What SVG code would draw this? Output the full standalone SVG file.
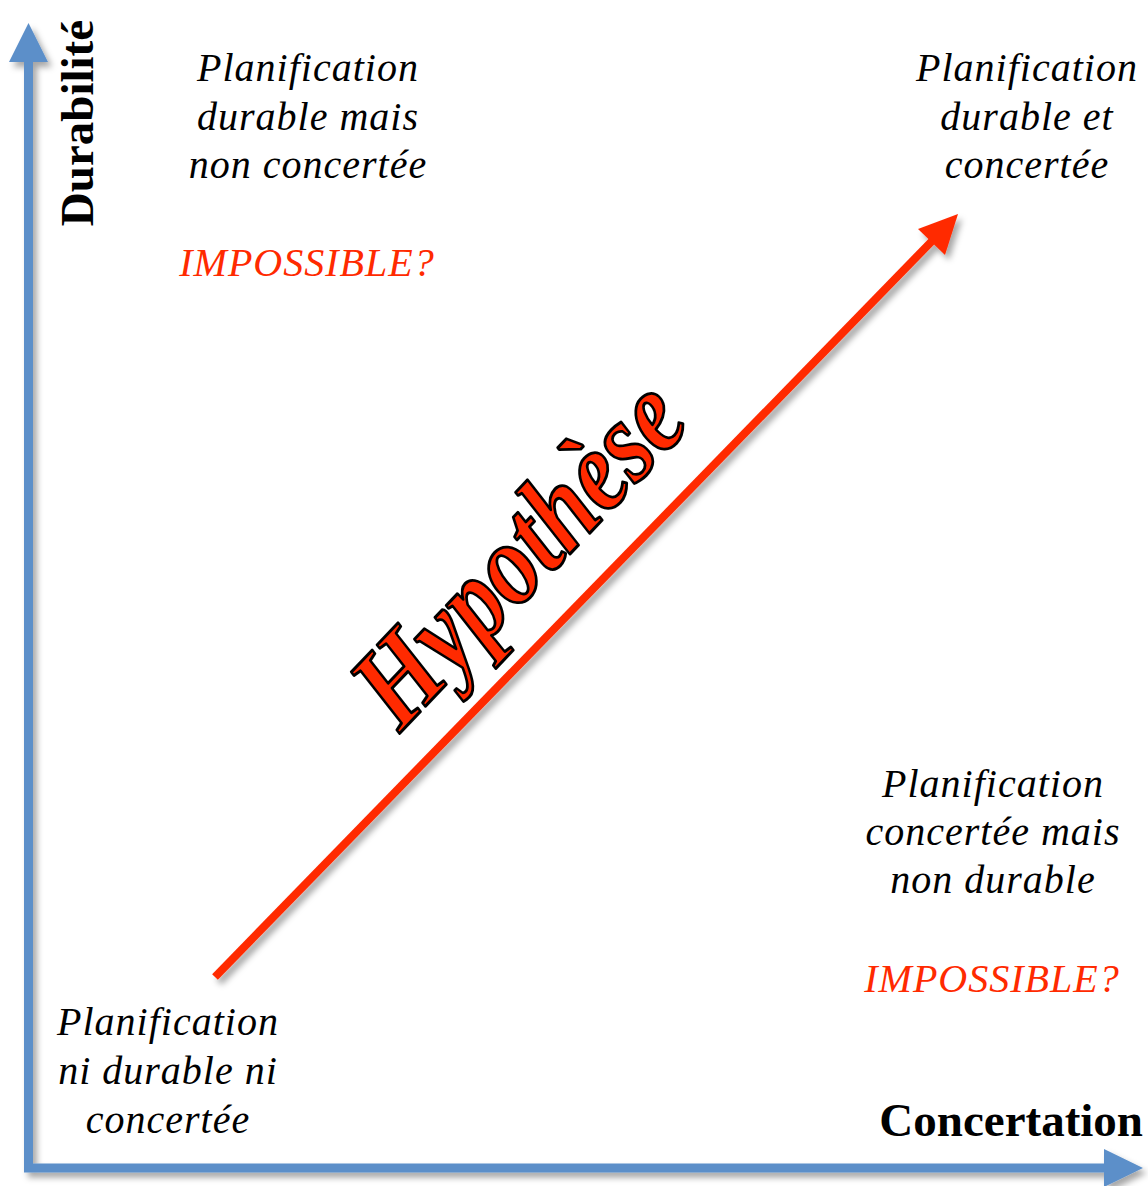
<svg xmlns="http://www.w3.org/2000/svg" width="1148" height="1186" viewBox="0 0 1148 1186">
  <style>
    .lbl { font-family: "Liberation Serif", "Times New Roman", serif; font-style: italic; font-size: 40px; letter-spacing: 1px; fill: #000; text-anchor: middle; }
    .warn { fill: #ff2a00; }
    .axis-title { font-family: "Liberation Serif", "Times New Roman", serif; font-weight: bold; font-size: 47px; fill: #000; }
    .axis { fill: none; stroke: #5b8fc9; stroke-width: 9; stroke-linejoin: miter; }
    .axis-head { fill: #5b8fc9; }
    .trend { stroke: #ff2a00; stroke-width: 8; fill: none; }
    .trend-head { fill: #ff2a00; }
    .hyp { font-family: "Liberation Serif", "Times New Roman", serif; font-weight: bold; font-style: italic; font-size: 118px; fill: #ff2a00; stroke: #000; stroke-width: 3; stroke-linejoin: round; }
  </style>
  <defs>
    <filter id="shadow" x="-10%" y="-10%" width="130%" height="130%">
      <feDropShadow dx="4" dy="5" stdDeviation="3" flood-color="#000" flood-opacity="0.35"/>
    </filter>
  </defs>

  <rect width="1148" height="1186" fill="#fff"/>

  <!-- axes and trend arrow -->
  <g id="connectors">
    <g id="axes" filter="url(#shadow)">
      <path class="axis" d="M28.5,60 V1168 H1106"/>
      <polygon class="axis-head" points="28.5,23 9,62 48,62"/>
      <polygon class="axis-head" points="1143,1168 1104,1149 1104,1187"/>
    </g>
    <g id="trend" filter="url(#shadow)">
      <line class="trend" x1="215" y1="977" x2="933" y2="240"/>
      <polygon class="trend-head" points="958,214 918,229 945,255"/>
    </g>
  </g>

  <!-- axis titles -->
  <g id="axis-y">
    <text class="axis-title" text-anchor="middle" transform="translate(93,123) rotate(-90)">Durabilité</text>
  </g>
  <g id="axis-x">
    <text class="axis-title" x="1143" y="1136" text-anchor="end">Concertation</text>
  </g>

  <!-- quadrant labels -->
  <g id="q-top-left">
    <text class="lbl" x="308" y="81">Planification</text>
    <text class="lbl" x="308" y="130">durable mais</text>
    <text class="lbl" x="308" y="178">non concertée</text>
    <text class="lbl warn" x="307" y="276">IMPOSSIBLE?</text>
  </g>
  <g id="q-top-right">
    <text class="lbl" x="1027" y="81">Planification</text>
    <text class="lbl" x="1027" y="130">durable et</text>
    <text class="lbl" x="1027" y="178">concertée</text>
  </g>
  <g id="q-bottom-right">
    <text class="lbl" x="993" y="797">Planification</text>
    <text class="lbl" x="993" y="845">concertée mais</text>
    <text class="lbl" x="993" y="893">non durable</text>
    <text class="lbl warn" x="992" y="992">IMPOSSIBLE?</text>
  </g>
  <g id="q-bottom-left">
    <text class="lbl" x="168" y="1035">Planification</text>
    <text class="lbl" x="168" y="1084">ni durable ni</text>
    <text class="lbl" x="168" y="1133">concertée</text>
  </g>

  <!-- hypothesis label along the trend -->
  <g id="hypothesis">
    <text class="hyp" transform="translate(400,733) rotate(-46.5) scale(0.83,1)">Hypothèse</text>
  </g>
</svg>
